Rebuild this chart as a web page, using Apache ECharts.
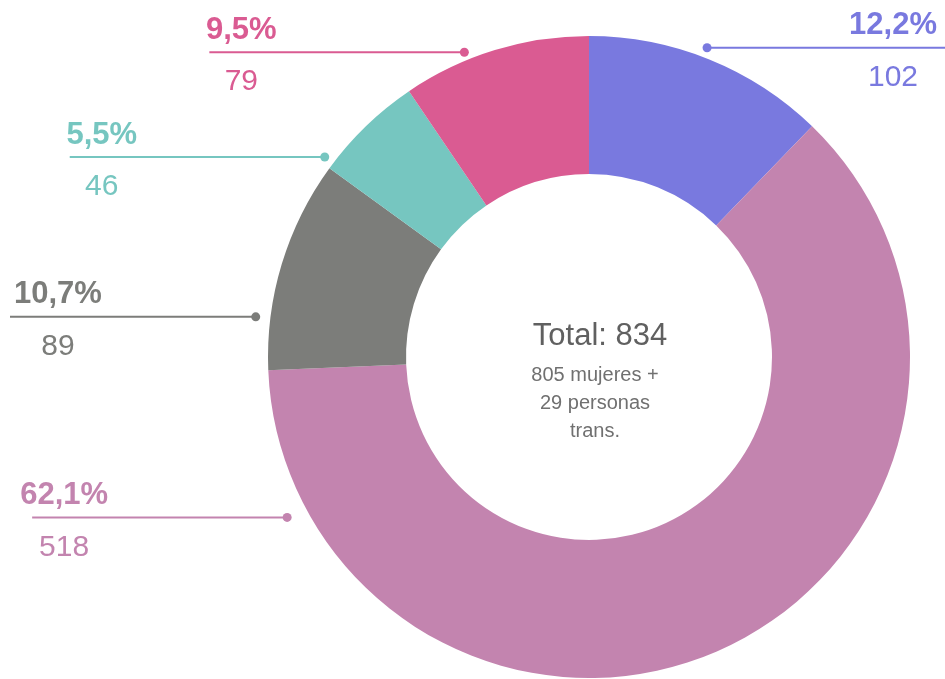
<!DOCTYPE html>
<html>
<head>
<meta charset="utf-8">
<script src="https://cdn.jsdelivr.net/npm/echarts@6/dist/echarts.min.js"></script>
<style>
  html, body { margin: 0; padding: 0; background: #fff; }
  #main { width: 945px; height: 679px; }
</style>
</head>
<body>
<div id="main"></div>
<script>
// datos
var values = [102, 518, 89, 46, 79];
var totalText = 'Total: 834';
var subLines = ['805 mujeres +', '29 personas', 'trans.'];

// estilo
var colors = ['#7979DF', '#C384AF', '#7C7D7A', '#76C6C0', '#DA5B92'];
var FONT = '"Liberation Sans", Arial, sans-serif';
var CX = 589, CY = 357, R_IN = 183, R_OUT = 321;
// circulo de los puntos (algo desplazado respecto del anillo)
var DOT_CX = CX + 2.5, DOT_CY = CY + 10, DOT_R = 339.5;
// donde cae el punto de cada etiqueta, como fraccion del sector
var anchorFrac = [0.452, 0.893, 0.283, 0.109, 0.355];
var LINE_LEN = 255;
var W = 945;

var total = values.reduce(function (a, b) { return a + b; }, 0);

function pct(v) {
  return (v / total * 100).toFixed(1).replace('.', ',') + '%';
}

// punto de anclaje de cada etiqueta
function anchor(i) {
  var start = 0;
  for (var j = 0; j < i; j++) start += values[j] / total * 360;
  var span = values[i] / total * 360;
  var ang = (start + span * anchorFrac[i]) * Math.PI / 180;
  return { x: DOT_CX + DOT_R * Math.sin(ang), y: DOT_CY - DOT_R * Math.cos(ang) };
}

var chart = echarts.init(document.getElementById('main'));

var dots = values.map(function (v, i) {
  var a = anchor(i);
  return {
    type: 'circle',
    shape: { cx: a.x, cy: a.y, r: 4.5 },
    style: { fill: colors[i] },
    z: 100
  };
});

var centerTexts = [{
  type: 'text',
  x: CX + 11, y: 336,
  style: {
    text: totalText,
    font: '31px ' + FONT,
    fill: '#606060',
    textAlign: 'center',
    textVerticalAlign: 'middle'
  },
  z: 100
}];
subLines.forEach(function (t, i) {
  centerTexts.push({
    type: 'text',
    x: CX + 6, y: 375 + i * 28,
    style: {
      text: t,
      font: '20px ' + FONT,
      fill: '#707070',
      textAlign: 'center',
      textVerticalAlign: 'middle'
    },
    z: 100
  });
});

var option = {
  animation: false,
  backgroundColor: '#fff',
  graphic: dots.concat(centerTexts),
  series: [{
    type: 'pie',
    center: [CX, CY],
    radius: [R_IN, R_OUT],
    startAngle: 90,
    clockwise: true,
    avoidLabelOverlap: false,
    silent: true,
    data: values.map(function (v, i) {
      return {
        value: v,
        itemStyle: { color: colors[i] },
        label: { color: colors[i] },
        labelLine: { lineStyle: { color: colors[i] } }
      };
    }),
    label: {
      show: true,
      position: 'outside',
      fontFamily: FONT,
      formatter: function (p) {
        return '{p|' + pct(p.value) + '}\n{v|' + p.value + '}';
      },
      rich: {
        p: { fontSize: 31, fontWeight: 'bold', fontFamily: FONT, lineHeight: 44, align: 'center' },
        v: { fontSize: 30, fontFamily: FONT, lineHeight: 60, align: 'center' }
      }
    },
    labelLine: {
      show: true,
      length: 10,
      length2: 10,
      lineStyle: { width: 2 }
    },
    labelLayout: function (params) {
      var a = anchor(params.dataIndex);
      var left = a.x < CX;
      var endX = left ? Math.max(10, a.x - LINE_LEN) : Math.min(W, a.x + LINE_LEN);
      var half = params.labelRect.width / 2;
      return {
        x: left ? Math.max(endX + 32, 14 + half) : endX - 52,
        y: a.y - 44,
        align: 'center',
        verticalAlign: 'top',
        labelLinePoints: [[a.x, a.y], [a.x, a.y], [endX, a.y]]
      };
    }
  }]
};

chart.setOption(option);
</script>
</body>
</html>
